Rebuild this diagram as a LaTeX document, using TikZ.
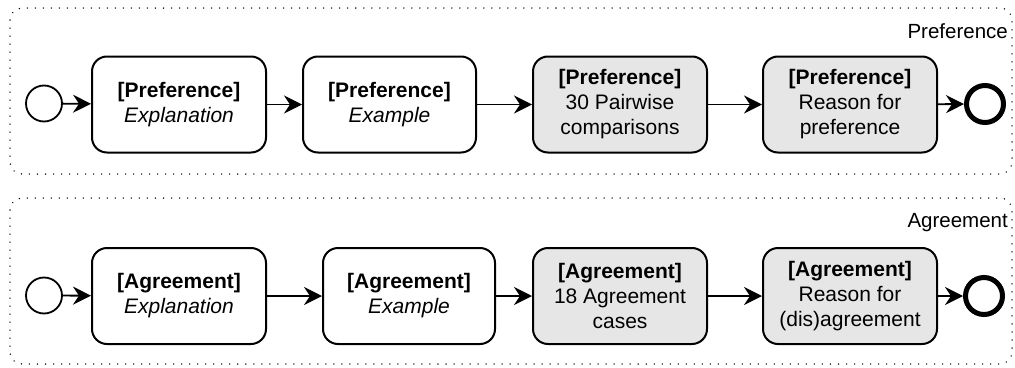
\documentclass[tikz,border=0pt]{standalone}
\usepackage{fontspec}
\setmainfont{Liberation Sans}
\usetikzlibrary{arrows.meta}
\definecolor{taskgrey}{HTML}{E6E6E6}
\begin{document}
\begin{tikzpicture}[x=1pt,y=-1pt,
  lane/.style={draw, line width=1.5pt, dash pattern=on 0.01pt off 8pt, line cap=round, rounded corners=12pt},
  lanelabel/.style={anchor=east, inner sep=0pt, font=\fontsize{20.5}{24}\selectfont},
  task/.style={draw, line width=2pt, rounded corners=15pt, fill=white, align=center,
    minimum height=96pt, minimum width=174pt, inner sep=0pt, font=\fontsize{21}{25}\selectfont},
  graytask/.style={task, fill=taskgrey},
  startev/.style={draw, circle, line width=1.8pt, minimum size=36pt, inner sep=0pt},
  endev/.style={draw, circle, line width=5pt, minimum size=37pt, inner sep=0pt},
  flow/.style={line width=1.8pt, -{Stealth[length=18pt, width=18pt, inset=6pt]}}
]
\useasboundingbox (0,0) rectangle (1015,367);

% swimlanes
\draw[lane] (10,8) rectangle (1012,174);
\draw[lane] (10,198) rectangle (1012,364);
\node[lanelabel] (lp) at (1008,31) {Preference};
\node[lanelabel] (la) at (1008,223) {Agreement};

% preference row
\node[startev] (ps) at (44,103.5) {};
\node[task] (p1) at (179,104.5) {\textbf{[Preference]}\\\textit{Explanation}};
\node[task, minimum width=173pt] (p2) at (389.5,104.5) {\textbf{[Preference]}\\\textit{Example}};
\node[graytask] (p3) at (620,104.5) {\textbf{[Preference]}\\30 Pairwise\\comparisons};
\node[graytask] (p4) at (850,104.5) {\textbf{[Preference]}\\Reason for\\preference};
\node[endev] (pe) at (985,104) {};

\draw[flow] (ps) -- (p1);
\draw[flow] (p1) -- (p2);
\draw[flow] (p2) -- (p3);
\draw[flow] (p3) -- (p4);
\draw[flow] (p4) -- (pe);

% agreement row
\node[startev] (as) at (44,295.5) {};
\node[task] (a1) at (179,296) {\textbf{[Agreement]}\\\textit{Explanation}};
\node[task, minimum width=172pt] (a2) at (409,296) {\textbf{[Agreement]}\\\textit{Example}};
\node[graytask] (a3) at (620,296) {\textbf{[Agreement]}\\18 Agreement\\cases};
\node[graytask] (a4) at (850,296) {\textbf{[Agreement]}\\Reason for\\(dis)agreement};
\node[endev] (ae) at (984,296) {};

\draw[flow] (as) -- (a1);
\draw[flow] (a1) -- (a2);
\draw[flow] (a2) -- (a3);
\draw[flow] (a3) -- (a4);
\draw[flow] (a4) -- (ae);
\end{tikzpicture}
\end{document}
